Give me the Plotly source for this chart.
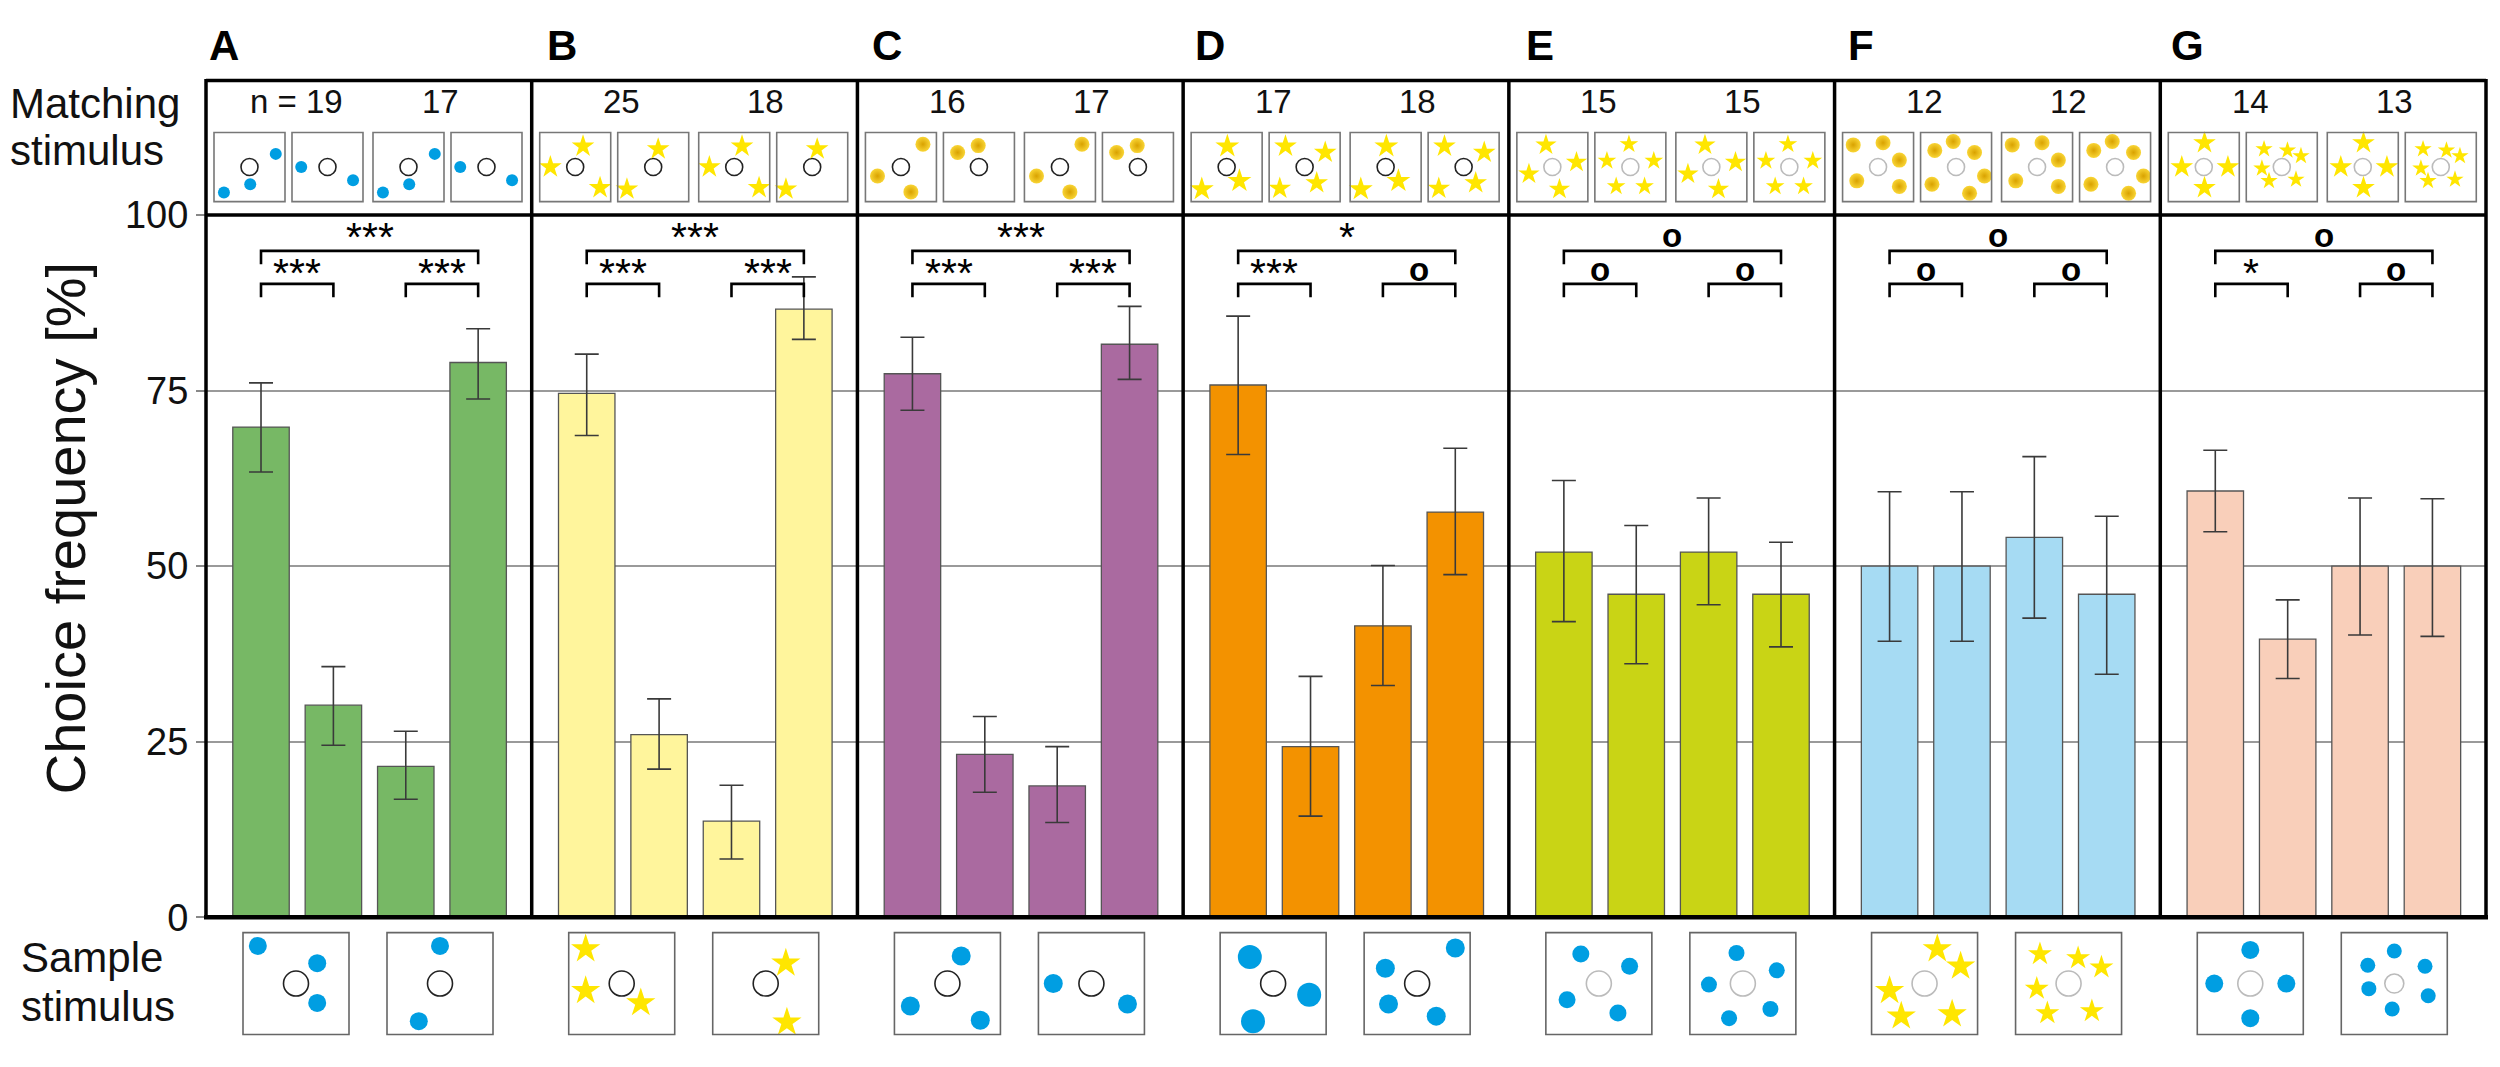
import plotly.graph_objects as go

# ---------------- data ----------------
panel_letters = ["A", "B", "C", "D", "E", "F", "G"]
n_left = ["n = 19", "25", "16", "17", "15", "12", "14"]
n_right = ["17", "18", "17", "18", "15", "12", "13"]

choice_A = [69.8, 30.2, 21.5, 79.0]
low_A = [63.4, 24.5, 16.8, 73.8]
high_A = [76.1, 35.7, 26.5, 83.8]

choice_B = [74.6, 26.0, 13.7, 86.6]
low_B = [68.6, 21.1, 8.3, 82.3]
high_B = [80.2, 31.1, 18.8, 91.2]

choice_C = [77.4, 23.2, 18.7, 81.6]
low_C = [72.2, 17.8, 13.5, 76.6]
high_C = [82.6, 28.6, 24.3, 87.0]

choice_D = [75.8, 24.3, 41.5, 57.7]
low_D = [65.9, 14.4, 33.0, 48.8]
high_D = [85.6, 34.3, 50.1, 66.8]

choice_E = [52.0, 46.0, 52.0, 46.0]
low_E = [42.1, 36.1, 44.5, 38.5]
high_E = [62.2, 55.8, 59.7, 53.4]

choice_F = [50.0, 50.0, 54.1, 46.0]
low_F = [39.3, 39.3, 42.6, 34.6]
high_F = [60.6, 60.6, 65.6, 57.1]

choice_G = [60.7, 39.6, 50.0, 50.0]
low_G = [54.9, 34.0, 40.2, 40.0]
high_G = [66.5, 45.2, 59.7, 59.6]

sig_outer = ["***", "***", "***", "*", "o", "o", "o"]
sig_left = ["***", "***", "***", "***", "o", "o", "*"]
sig_right = ["***", "***", "***", "o", "o", "o", "o"]

y_ticks = [0, 25, 50, 75, 100]

# ---------------- style / layout constants ----------------
choices = [choice_A, choice_B, choice_C, choice_D, choice_E, choice_F, choice_G]
lows = [low_A, low_B, low_C, low_D, low_E, low_F, low_G]
highs = [high_A, high_B, high_C, high_D, high_E, high_F, high_G]

bar_colors = ["#77B865", "#FFF59C", "#AA6AA0", "#F39200", "#C9D415", "#A6DBF3", "#F9CFBA"]
FONT = "Arial, Liberation Sans, sans-serif"
W, H = 2500, 1067
LEFT, RIGHT = 206, 2486
TOP, Y100, Y0 = 62, 202, 933
PW = (RIGHT - LEFT) / 7
BLUE = "#009EE2"
YELLOW = "#FFE600"


def fx(x):
    return x / W


def fy(y):
    return 1 - y / H


fig = go.Figure()
layout = dict(
    width=W, height=H, autosize=False,
    margin=dict(l=0, r=0, t=0, b=0),
    paper_bgcolor="white", plot_bgcolor="rgba(0,0,0,0)",
    showlegend=False, font=dict(family=FONT, color="#111"),
)
shapes = []
annotations = []

for i in range(7):
    xa = "x" if i == 0 else f"x{i+1}"
    ya = "y" if i == 0 else f"y{i+1}"
    vals, lo, hi = choices[i], lows[i], highs[i]
    fig.add_trace(go.Bar(
        x=[0, 1, 2, 3], y=vals, xaxis=xa, yaxis=ya, width=0.78,
        marker=dict(color=bar_colors[i], line=dict(color="#555555", width=1.3)),
        error_y=dict(type="data", symmetric=False,
                     array=[h - v for h, v in zip(hi, vals)],
                     arrayminus=[v - l for v, l in zip(vals, lo)],
                     color="#3a3a3a", thickness=1.6, width=12),
        hoverinfo="skip"))
    x0 = LEFT + i * PW
    layout["xaxis" if i == 0 else f"xaxis{i+1}"] = dict(
        domain=[fx(x0), fx(x0 + PW)], range=[-0.76, 3.74], visible=False, anchor=ya)
    yax = dict(domain=[fy(Y0), fy(Y100)], range=[0, 100], anchor=xa,
               showgrid=True, gridcolor="#9a9a9a", gridwidth=1.5,
               tickvals=y_ticks, zeroline=False, showline=False,
               showticklabels=(i == 0))
    if i == 0:
        yax.update(ticks="outside", ticklen=9, tickcolor="#888", tickwidth=1.5,
                   tickfont=dict(size=38, family=FONT, color="#111"))
    else:
        yax.update(ticks="", matches="y")
    layout["yaxis" if i == 0 else f"yaxis{i+1}"] = yax

    # significance brackets
    def bracket(a, b, top, leg):
        shapes.append(dict(type="path", xref=xa, yref=ya,
                           path=f"M {a},{leg} L {a},{top} L {b},{top} L {b},{leg}",
                           line=dict(color="black", width=2.6), layer="above"))
    bracket(0, 3, 94.9, 93.0)
    bracket(0, 1, 90.2, 88.3)
    bracket(2, 3, 90.2, 88.3)

    def sig_text(x, lab, big):
        if lab == "o":
            yy = 97.1 if big else 92.2
            annotations.append(dict(x=x, y=yy, xref=xa, yref=ya, text="<b>o</b>",
                                    showarrow=False, font=dict(size=33, family=FONT, color="black")))
        else:
            yy = 96.9 if big else 91.8
            annotations.append(dict(x=x, y=yy, xref=xa, yref=ya, text=lab,
                                    showarrow=False, font=dict(size=41, family=FONT, color="black")))
    sig_text(1.5, sig_outer[i], True)
    sig_text(0.5, sig_left[i], False)
    sig_text(2.5, sig_right[i], False)

# ---------------- frame ----------------
LW = 3.5
shapes.append(dict(type="line", xref="paper", yref="paper", x0=fx(LEFT), x1=fx(RIGHT),
                   y0=fy(TOP), y1=fy(TOP), line=dict(color="black", width=LW), layer="above"))
shapes.append(dict(type="line", xref="paper", yref="paper", x0=fx(LEFT), x1=fx(RIGHT),
                   y0=fy(Y100), y1=fy(Y100), line=dict(color="black", width=LW), layer="above"))
shapes.append(dict(type="line", xref="paper", yref="paper", x0=fx(LEFT - 2), x1=fx(RIGHT + 2),
                   y0=fy(Y0), y1=fy(Y0), line=dict(color="black", width=4.5), layer="above"))
for k in range(8):
    xx = LEFT + k * PW
    shapes.append(dict(type="line", xref="paper", yref="paper", x0=fx(xx), x1=fx(xx),
                       y0=fy(TOP - 1.5), y1=fy(Y0), line=dict(color="black", width=LW), layer="above"))

# ---------------- icons ----------------
layout["xaxis8"] = dict(domain=[0, 1], range=[0, W], visible=False, anchor="y8", fixedrange=True)
layout["yaxis8"] = dict(domain=[0, 1], range=[H, 0], visible=False, anchor="x8", fixedrange=True)

hdr_kind = ["dot", "star", "coin", "star", "star", "coin", "star"]
smp_kind = ["dot", "star", "dot", "dot", "dot", "star", "dot"]
ring_col = ["#222", "#222", "#222", "#222", "#bbbbbb", "#bbbbbb", "#bbbbbb"]

hdr_pos = [
    [[(0.14, 0.87), (0.51, 0.75), (0.87, 0.31)], [(0.13, 0.5), (0.86, 0.69)]],
    [[(0.15, 0.5), (0.61, 0.2), (0.85, 0.8)], [(0.57, 0.24), (0.13, 0.82)]],
    [[(0.81, 0.17), (0.17, 0.63), (0.64, 0.86)], [(0.2, 0.29), (0.49, 0.19)]],
    [[(0.51, 0.2), (0.15, 0.82), (0.68, 0.7)], [(0.23, 0.2), (0.79, 0.29), (0.15, 0.81), (0.67, 0.73)]],
    [[(0.41, 0.18), (0.17, 0.6), (0.84, 0.43), (0.6, 0.82)],
     [(0.48, 0.17), (0.17, 0.41), (0.83, 0.41), (0.3, 0.78), (0.7, 0.78)]],
    [[(0.15, 0.18), (0.57, 0.15), (0.8, 0.4), (0.2, 0.7), (0.8, 0.78)],
     [(0.2, 0.26), (0.46, 0.13), (0.76, 0.29), (0.9, 0.63), (0.16, 0.75), (0.69, 0.88)]],
    [[(0.51, 0.15), (0.19, 0.5), (0.84, 0.5), (0.51, 0.8)],
     [(0.25, 0.24), (0.58, 0.26), (0.77, 0.34), (0.22, 0.52), (0.32, 0.7), (0.7, 0.68)]],
]
hdr_size = [(12, 12), (17, 17), (15, 15), (18, 17), (16, 14), (15, 15), (17, 13)]

smp_pos = [
    [[(0.14, 0.13), (0.7, 0.3), (0.7, 0.69)], [(0.5, 0.13), (0.3, 0.87)]],
    [[(0.16, 0.16), (0.16, 0.57), (0.68, 0.69)], [(0.69, 0.3), (0.7, 0.88)]],
    [[(0.63, 0.23), (0.15, 0.72), (0.81, 0.86)], [(0.14, 0.5), (0.84, 0.7)]],
    [[(0.28, 0.24), (0.84, 0.61), (0.31, 0.87)], [(0.86, 0.15), (0.2, 0.35), (0.23, 0.7), (0.68, 0.82)]],
    [[(0.33, 0.21), (0.79, 0.33), (0.2, 0.66), (0.68, 0.79)],
     [(0.44, 0.2), (0.82, 0.37), (0.18, 0.51), (0.76, 0.75), (0.37, 0.84)]],
    [[(0.62, 0.16), (0.84, 0.33), (0.17, 0.57), (0.28, 0.82), (0.76, 0.8)],
     [(0.23, 0.21), (0.59, 0.25), (0.81, 0.34), (0.2, 0.55), (0.3, 0.79), (0.72, 0.77)]],
    [[(0.5, 0.17), (0.16, 0.5), (0.84, 0.5), (0.5, 0.84)],
     [(0.5, 0.18), (0.25, 0.32), (0.79, 0.33), (0.26, 0.55), (0.82, 0.62), (0.48, 0.75)]],
]
smp_size = [(18, 18), (22, 22), (19, 19), (24, 19), (17, 16), (22, 18), (18, 15)]
smp_ring = [(25, 25), (25, 25), (25, 25), (25, 25), (25, 25), (25, 25), (25, 19)]

HDR_BOX_X = [8, 86, 167, 245]
HDR_W, HDR_Y0, HDR_Y1 = 71, 116, 188
SMP_BOX_X = [37, 181]
SMP_W, SMP_Y0, SMP_Y1 = 106, 949, 1055


def marker_for(kind, size):
    if kind == "dot":
        return dict(symbol="circle", size=size, color=BLUE, line=dict(width=0))
    if kind == "star":
        return dict(symbol="star", size=size, color=YELLOW, line=dict(width=0))
    return dict(symbol="circle", size=size, color="#F9D535",
                gradient=dict(type="radial", color="#D9A200"), line=dict(width=0))


def draw_icon(bx, by0, bw, bh, pts, kind, size, ringsize, rcol, boxcol):
    shapes.append(dict(type="rect", xref="paper", yref="paper",
                       x0=fx(bx), x1=fx(bx + bw), y0=fy(by0), y1=fy(by0 + bh),
                       line=dict(color=boxcol, width=1.6), fillcolor="rgba(0,0,0,0)"))
    fig.add_trace(go.Scatter(x=[bx + bw * 0.5], y=[by0 + bh * 0.5], xaxis="x8", yaxis="y8",
                             mode="markers", hoverinfo="skip",
                             marker=dict(symbol="circle-open", size=ringsize, color=rcol,
                                         line=dict(width=1.6))))
    fig.add_trace(go.Scatter(x=[bx + bw * p[0] for p in pts], y=[by0 + bh * p[1] for p in pts],
                             xaxis="x8", yaxis="y8", mode="markers", hoverinfo="skip",
                             marker=marker_for(kind, size)))


for i in range(7):
    x0 = LEFT + i * PW
    for j in range(4):
        pts = hdr_pos[i][j % 2]
        draw_icon(x0 + HDR_BOX_X[j], HDR_Y0, HDR_W, HDR_Y1 - HDR_Y0, pts, hdr_kind[i],
                  hdr_size[i][j % 2], 17, ring_col[i], "#777777")
    for j in range(2):
        draw_icon(x0 + SMP_BOX_X[j], SMP_Y0, SMP_W, SMP_Y1 - SMP_Y0, smp_pos[i][j], smp_kind[i],
                  smp_size[i][j], smp_ring[i][j], ring_col[i], "#666666")

# ---------------- texts ----------------
letter_off = [1, 13, 13, 10, 15, 11, 9]
for i in range(7):
    x0 = LEFT + i * PW
    annotations.append(dict(x=fx(x0 + letter_off[i]), y=fy(26), xref="paper", yref="paper",
                            xanchor="left", yanchor="middle", showarrow=False,
                            text=f"<b>{panel_letters[i]}</b>",
                            font=dict(size=42, family=FONT, color="black")))
    annotations.append(dict(x=fx(x0 + 90), y=fy(84), xref="paper", yref="paper",
                            xanchor="center", yanchor="middle", showarrow=False,
                            text=n_left[i], font=dict(size=33, family=FONT, color="#111")))
    annotations.append(dict(x=fx(x0 + 234), y=fy(84), xref="paper", yref="paper",
                            xanchor="center", yanchor="middle", showarrow=False,
                            text=n_right[i], font=dict(size=33, family=FONT, color="#111")))

for txt, yy in [("Matching", 86), ("stimulus", 135), ("Sample", 975), ("stimulus", 1026)]:
    xl = 8 if yy < 500 else 19
    annotations.append(dict(x=fx(xl), y=fy(yy), xref="paper", yref="paper",
                            xanchor="left", yanchor="middle", showarrow=False, text=txt,
                            font=dict(size=42, family=FONT, color="#111")))

annotations.append(dict(x=fx(65), y=fy(528), xref="paper", yref="paper", textangle=-90,
                        xanchor="center", yanchor="middle", showarrow=False,
                        text="Choice frequency [%]",
                        font=dict(size=56, family=FONT, color="#111")))

layout["shapes"] = shapes
layout["annotations"] = annotations
fig.update_layout(**layout)
for tr in fig.data:
    tr.showlegend = False

fig.write_html("out.html", config={"displayModeBar": False},
               post_script="document.body.style.margin='0';")
